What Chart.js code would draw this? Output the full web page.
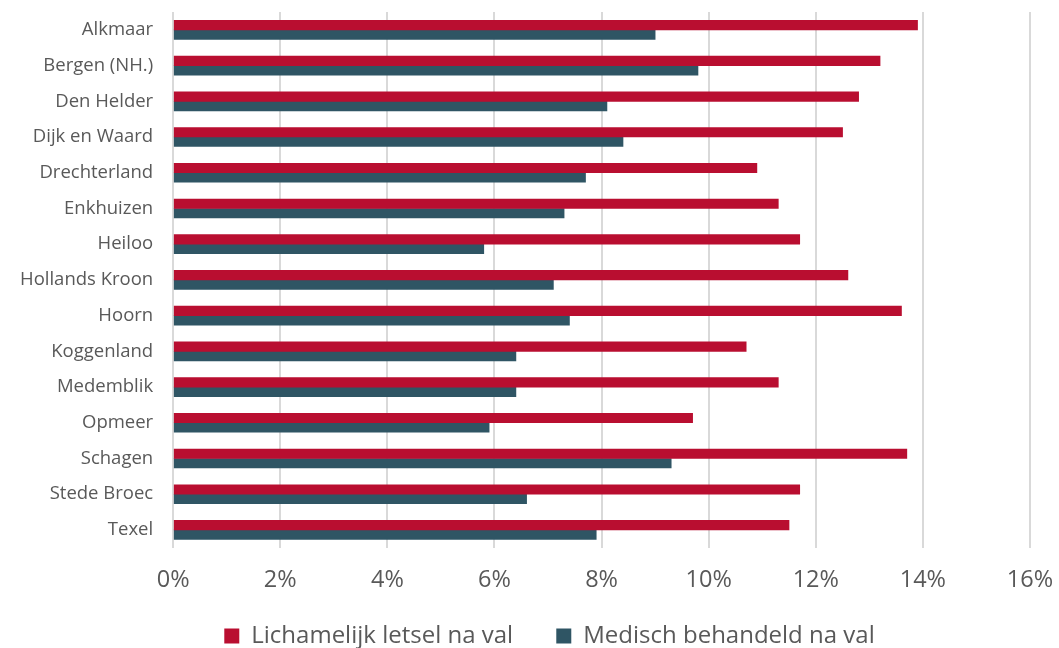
<!DOCTYPE html>
<html>
<head>
<meta charset="utf-8">
<script src="https://cdn.jsdelivr.net/npm/chart.js@4/dist/chart.umd.min.js"></script>
<style>
  body { margin: 0; background: #fff; }
  #wrap { width: 1059px; height: 648px; }
</style>
</head>
<body>
<div id="wrap"><canvas id="canvas1"></canvas></div>
<script>
const gemeenten = ['Alkmaar', 'Bergen (NH.)', 'Den Helder', 'Dijk en Waard', 'Drechterland', 'Enkhuizen', 'Heiloo', 'Hollands Kroon', 'Hoorn', 'Koggenland', 'Medemblik', 'Opmeer', 'Schagen', 'Stede Broec', 'Texel']
const letsel = [13.9, 13.2, 12.8, 12.5, 10.9, 11.3, 11.7, 12.6, 13.6, 10.7, 11.3, 9.7, 13.7, 11.7, 11.5]
const behandeld = [9.0, 9.8, 8.1, 8.4, 7.7, 7.3, 5.8, 7.1, 7.4, 6.4, 6.4, 5.9, 9.3, 6.6, 7.9]

const grey = '#595959'
const ctx = document.getElementById('canvas1').getContext('2d')

// the legend in the original sits a bit right of the middle
const legendShift = {
  id: 'legendShift',
  afterLayout(chart) {
    chart.legend.left += 20
    chart.legend.right += 20
  }
}

const myChart = new Chart(ctx, {
  type: 'bar',
  data: {
    labels: gemeenten,
    datasets: [
      {
        label: 'Lichamelijk letsel na val',
        data: letsel,
        backgroundColor: '#B90E30',
        barThickness: 9.5
      },
      {
        label: 'Medisch behandeld na val',
        data: behandeld,
        backgroundColor: '#2F5564',
        barThickness: 9.5
      }
    ]
  },
  options: {
    indexAxis: 'y',
    responsive: true,
    maintainAspectRatio: false,
    animation: false,
    layout: { padding: { top: 12, right: 0, left: 0, bottom: -10 } },
    scales: {
      x: {
        min: 0,
        max: 16,
        ticks: {
          stepSize: 2,
          color: grey,
          padding: 18,
          font: { family: 'Open Sans', size: 23.5 },
          callback: v => v + '%'
        },
        grid: { color: '#D9D9D9', lineWidth: 2, drawTicks: false },
        border: { display: false },
        // the tick padding would otherwise also be added at the right edge
        afterFit: scale => { scale.paddingRight = 29 }
      },
      y: {
        ticks: {
          color: grey,
          padding: 20,
          font: { family: 'Open Sans', size: 18.5 }
        },
        grid: { display: false, drawTicks: false },
        border: { display: false },
        afterFit: scale => { scale.paddingTop = 0; scale.paddingBottom = 0 }
      }
    },
    plugins: {
      legend: {
        position: 'bottom',
        labels: {
          color: grey,
          boxWidth: 15,
          boxHeight: 15,
          padding: 12,
          font: { family: 'Open Sans', size: 24 },
          // wider gap between the two items
          generateLabels: chart => {
            const items = Chart.defaults.plugins.legend.labels.generateLabels(chart)
            items[0].text = items[0].text + '     '
            return items
          }
        }
      },
      tooltip: { enabled: false }
    }
  },
  plugins: [legendShift]
})
</script>
</body>
</html>
